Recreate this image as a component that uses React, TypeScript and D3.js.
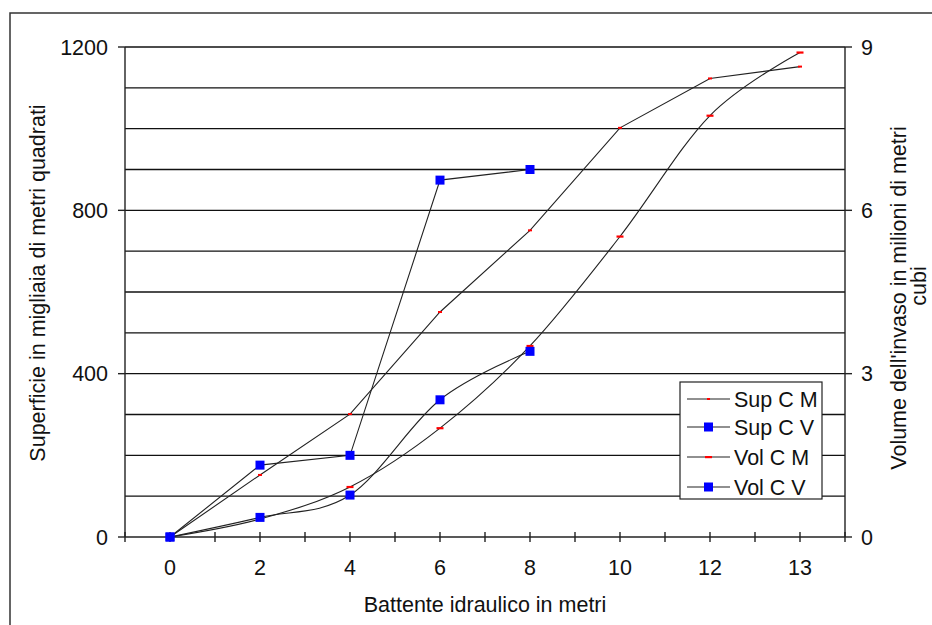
import React, { useEffect, useRef } from 'react';
import * as d3 from 'd3';

// battente idraulico (categorie asse x)
const categories = ['0', '2', '4', '6', '8', '10', '12', '13'];
// superficie (migliaia di m2) - asse sinistro
const supCM = [0, 152, 301, 551, 751, 1002, 1123, 1152];
const supCV = [0, 176, 200, 874, 900];
// volume (milioni di m3) - asse destro
const volCM = [0, 0.33, 0.92, 2.0, 3.51, 5.52, 7.74, 8.9];
const volCV = [0, 0.36, 0.77, 2.52, 3.41];

const leftTicks = [0, 400, 800, 1200];
const rightTicks = [0, 3, 6, 9];
const gridValues = d3.range(100, 1201, 100);

const legendItems = [
    { name: 'Sup C M', marker: 'dot' },
    { name: 'Sup C V', marker: 'square' },
    { name: 'Vol C M', marker: 'dash' },
    { name: 'Vol C V', marker: 'square' },
];

const W = 932;
const H = 625;
const FONT = 'Liberation Sans, Arial, sans-serif';
const FS = 21.5;

const App = () => {
    const svgRef = useRef<SVGSVGElement>(null);

    useEffect(() => {
        const svg = d3.select(svgRef.current);
        svg.selectAll('*').remove();

        const left = 125, right = 845, top = 47, bottom = 537;

        const x = d3.scaleBand().domain(categories).range([left, right]);
        const cx = (c: string) => (x(c) as number) + x.bandwidth() / 2;
        const yL = d3.scaleLinear().domain([0, 1200]).range([bottom, top]);
        const yR = d3.scaleLinear().domain([0, 9]).range([bottom, top]);

        // cornice esterna
        svg.append('path')
            .attr('d', `M10,${H} L10,13 L${W},13`)
            .attr('fill', 'none')
            .attr('stroke', '#333')
            .attr('stroke-width', 1.5);

        // griglia orizzontale
        svg.append('g')
            .selectAll('line')
            .data(gridValues)
            .enter()
            .append('line')
            .attr('x1', left)
            .attr('x2', right)
            .attr('y1', (d) => yL(d))
            .attr('y2', (d) => yL(d))
            .attr('stroke', '#111')
            .attr('stroke-width', 1.4);

        // assi
        const axes = svg.append('g').attr('stroke', '#222').attr('stroke-width', 1.4);
        axes.append('line').attr('x1', left).attr('x2', left).attr('y1', top).attr('y2', bottom);
        axes.append('line').attr('x1', right).attr('x2', right).attr('y1', top).attr('y2', bottom);
        axes.append('line').attr('x1', left).attr('x2', right).attr('y1', bottom).attr('y2', bottom);

        leftTicks.forEach((t) => {
            axes.append('line').attr('x1', left - 7).attr('x2', left).attr('y1', yL(t)).attr('y2', yL(t));
        });
        rightTicks.forEach((t) => {
            axes.append('line').attr('x1', right).attr('x2', right + 7).attr('y1', yR(t)).attr('y2', yR(t));
        });

        // tacche asse x: confini e centri delle categorie
        const xTickPos: number[] = [];
        categories.forEach((c) => {
            xTickPos.push(x(c) as number);
            xTickPos.push(cx(c));
        });
        xTickPos.push(right);
        xTickPos.forEach((p) => {
            axes.append('line').attr('x1', p).attr('x2', p).attr('y1', bottom - 5).attr('y2', bottom + 5);
        });

        const labels = svg.append('g').attr('font-family', FONT).attr('fill', '#111').attr('font-size', FS);

        labels.selectAll('.lt')
            .data(leftTicks)
            .enter()
            .append('text')
            .attr('x', 108)
            .attr('y', (d) => yL(d))
            .attr('dy', '0.35em')
            .attr('text-anchor', 'end')
            .text((d) => d);

        labels.selectAll('.rt')
            .data(rightTicks)
            .enter()
            .append('text')
            .attr('x', 861)
            .attr('y', (d) => yR(d))
            .attr('dy', '0.35em')
            .text((d) => d);

        labels.selectAll('.xt')
            .data(categories)
            .enter()
            .append('text')
            .attr('x', (d) => cx(d))
            .attr('y', 567)
            .attr('dy', '0.35em')
            .attr('text-anchor', 'middle')
            .text((d) => d);

        labels.append('text')
            .attr('x', 485)
            .attr('y', 604)
            .attr('dy', '0.35em')
            .attr('text-anchor', 'middle')
            .text('Battente idraulico in metri');

        labels.append('text')
            .attr('transform', `translate(37,${(top + bottom) / 2 - 9}) rotate(-90)`)
            .attr('dy', '0.35em')
            .attr('text-anchor', 'middle')
            .text('Superficie in migliaia di metri quadrati');

        labels.append('text')
            .attr('transform', `translate(898,${(top + bottom) / 2 + 6}) rotate(-90)`)
            .attr('dy', '0.35em')
            .attr('text-anchor', 'middle')
            .text("Volume dell'invaso in milioni di metri");

        labels.append('text')
            .attr('transform', `translate(918,${(top + bottom) / 2 - 6}) rotate(-90)`)
            .attr('dy', '0.35em')
            .attr('text-anchor', 'middle')
            .text('cubi');

        // serie
        const straight = d3.line<number>()
            .x((d, i) => cx(categories[i]))
            .y((d) => yL(d));
        const smooth = d3.line<number>()
            .x((d, i) => cx(categories[i]))
            .y((d) => yR(d))
            .curve(d3.curveCardinal.tension(0));

        const lines = svg.append('g').attr('fill', 'none').attr('stroke', '#222').attr('stroke-width', 1.1);
        lines.append('path').attr('d', straight(supCM));
        lines.append('path').attr('d', straight(supCV));
        lines.append('path').attr('d', smooth(volCM));
        lines.append('path').attr('d', smooth(volCV));

        const marks = svg.append('g');
        supCM.forEach((v, i) => {
            marks.append('rect').attr('x', cx(categories[i]) - 2).attr('y', yL(v) - 1).attr('width', 4).attr('height', 2).attr('fill', '#ff0000');
        });
        volCM.forEach((v, i) => {
            marks.append('rect').attr('x', cx(categories[i]) - 3.5).attr('y', yR(v) - 1).attr('width', 7).attr('height', 2.2).attr('fill', '#ff0000');
        });
        supCV.forEach((v, i) => {
            marks.append('rect').attr('x', cx(categories[i]) - 4.5).attr('y', yL(v) - 4.5).attr('width', 9).attr('height', 9).attr('fill', '#0000ff');
        });
        volCV.forEach((v, i) => {
            marks.append('rect').attr('x', cx(categories[i]) - 4.5).attr('y', yR(v) - 4.5).attr('width', 9).attr('height', 9).attr('fill', '#0000ff');
        });

        // legenda
        const lg = svg.append('g');
        lg.append('rect')
            .attr('x', 680).attr('y', 382).attr('width', 142).attr('height', 117)
            .attr('fill', '#fff').attr('stroke', '#222').attr('stroke-width', 1.2);
        const rowY = [399, 427, 457, 487];
        legendItems.forEach((item, i) => {
            const yy = rowY[i];
            lg.append('line').attr('x1', 687).attr('x2', 730).attr('y1', yy).attr('y2', yy).attr('stroke', '#222').attr('stroke-width', 1.2);
            if (item.marker === 'square') {
                lg.append('rect').attr('x', 704).attr('y', yy - 4.5).attr('width', 9).attr('height', 9).attr('fill', '#0000ff');
            } else if (item.marker === 'dash') {
                lg.append('rect').attr('x', 705).attr('y', yy - 1).attr('width', 7).attr('height', 2.2).attr('fill', '#ff0000');
            } else {
                lg.append('rect').attr('x', 707).attr('y', yy - 1).attr('width', 3).attr('height', 2).attr('fill', '#ff0000');
            }
            lg.append('text')
                .attr('x', 734)
                .attr('y', yy)
                .attr('dy', '0.35em')
                .attr('font-family', FONT)
                .attr('font-size', FS)
                .attr('fill', '#111')
                .text(item.name);
        });
    }, []);

    return (
        <div style={{ position: 'absolute', top: 0, left: 0, width: W, height: H, background: '#fff' }}>
            <svg ref={svgRef} width={W} height={H} style={{ display: 'block' }} />
        </div>
    );
};

export default App;
